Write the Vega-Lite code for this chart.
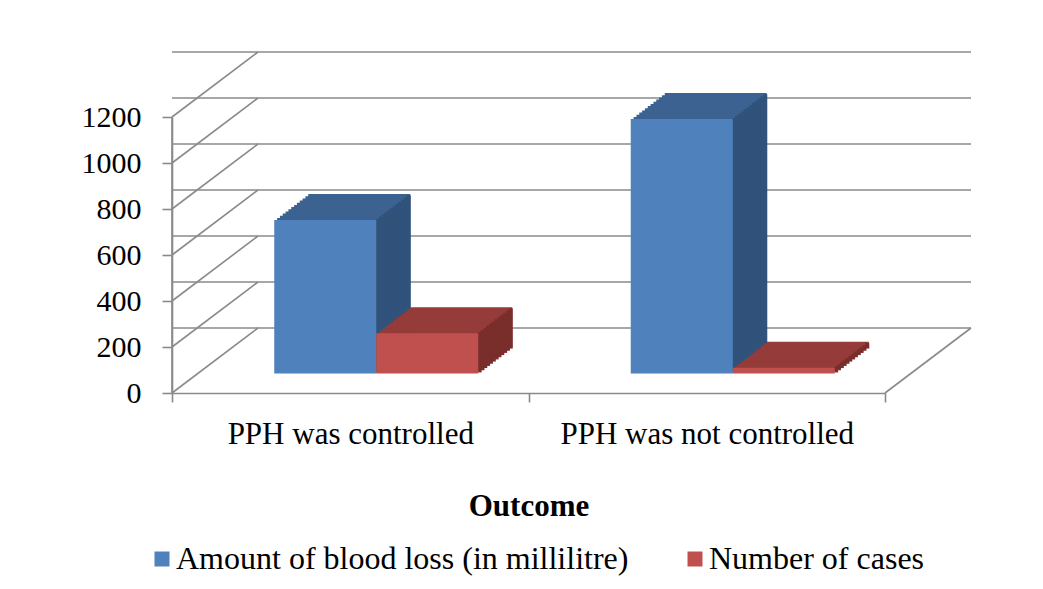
{
  "$schema": "https://vega.github.io/schema/vega-lite/v6.json",
  "width": 713,
  "height": 276,
  "autosize": {"type": "none"},
  "padding": {"left": 172, "top": 117, "right": 158, "bottom": 196},
  "background": "white",
  "config": {"view": {"stroke": null}, "font": "Liberation Serif"},
  "datasets": {
    "grid": [{"value": 0}, {"value": 200}, {"value": 400}, {"value": 600}, {"value": 800}, {"value": 1000}, {"value": 1200}],
    "bars": [
      {"outcome": "PPH was controlled", "series": "Amount of blood loss (in millilitre)", "value": 667},
      {"outcome": "PPH was controlled", "series": "Number of cases", "value": 175},
      {"outcome": "PPH was not controlled", "series": "Amount of blood loss (in millilitre)", "value": 1106},
      {"outcome": "PPH was not controlled", "series": "Number of cases", "value": 25}
    ]
  },
  "layer": [
    {
      "data": {"name": "grid"},
      "mark": {"type": "rule", "color": "#8a8a8a", "strokeWidth": 1.6, "xOffset": 86, "yOffset": -65},
      "encoding": {
        "y": {
          "field": "value", "type": "quantitative",
          "scale": {"domain": [0, 1200], "nice": false, "zero": true},
          "axis": {
            "title": null, "values": [0, 200, 400, 600, 800, 1000, 1200], "format": "d",
            "labelFont": "Liberation Serif", "labelFontSize": 30, "labelColor": "#000000", "labelPadding": 21, "labelFlush": false,
            "tickSize": 10, "tickColor": "#8a8a8a", "tickWidth": 1.6,
            "domain": true, "domainColor": "#8a8a8a", "domainWidth": 1.6, "grid": false
          }
        }
      }
    },
    {
      "data": {"name": "grid"},
      "mark": {"type": "rule", "color": "#8a8a8a", "strokeWidth": 1.6, "x2Offset": 86, "y2Offset": -65},
      "encoding": {
        "x": {
          "datum": "PPH was controlled", "type": "nominal", "bandPosition": 0,
          "scale": {"type": "band", "domain": ["PPH was controlled", "PPH was not controlled"], "paddingInner": 0, "paddingOuter": 0},
          "axis": {
            "title": "Outcome", "titleFont": "Liberation Serif", "titleFontSize": 31, "titleFontWeight": "bold", "titleColor": "#000000",
            "titleY": 98, "titleBaseline": "top",
            "labelFont": "Liberation Serif", "labelFontSize": 31, "labelColor": "#000000", "labelAngle": 0, "labelPadding": 17, "labelLimit": 0,
            "tickBand": "extent", "tickSize": 9, "tickColor": "#8a8a8a", "tickWidth": 1.6,
            "domainColor": "#8a8a8a", "domainWidth": 1.6, "grid": false
          }
        },
        "x2": {"datum": "PPH was controlled", "bandPosition": 0},
        "y": {
          "field": "value", "type": "quantitative",
          "axis": {
            "title": null, "values": [0, 200, 400, 600, 800, 1000, 1200], "format": "d",
            "labelFont": "Liberation Serif", "labelFontSize": 30, "labelColor": "#000000", "labelPadding": 21, "labelFlush": false,
            "tickSize": 10, "tickColor": "#8a8a8a", "tickWidth": 1.6,
            "domain": true, "domainColor": "#8a8a8a", "domainWidth": 1.6, "grid": false
          }
        },
        "y2": {"field": "value"}
      }
    },
    {
      "data": {"name": "grid"},
      "transform": [{"filter": "datum.value == 0"}],
      "mark": {"type": "rule", "color": "#8a8a8a", "strokeWidth": 1.6, "x2Offset": 86, "y2Offset": -65},
      "encoding": {
        "x": {
          "datum": "PPH was not controlled", "type": "nominal", "bandPosition": 1,
          "axis": {
            "title": "Outcome", "titleFont": "Liberation Serif", "titleFontSize": 31, "titleFontWeight": "bold", "titleColor": "#000000",
            "titleY": 98, "titleBaseline": "top",
            "labelFont": "Liberation Serif", "labelFontSize": 31, "labelColor": "#000000", "labelAngle": 0, "labelPadding": 17, "labelLimit": 0,
            "tickBand": "extent", "tickSize": 9, "tickColor": "#8a8a8a", "tickWidth": 1.6,
            "domainColor": "#8a8a8a", "domainWidth": 1.6, "grid": false
          }
        },
        "x2": {"datum": "PPH was not controlled", "bandPosition": 1},
        "y": {
          "field": "value", "type": "quantitative",
          "axis": {
            "title": null, "values": [0, 200, 400, 600, 800, 1000, 1200], "format": "d",
            "labelFont": "Liberation Serif", "labelFontSize": 30, "labelColor": "#000000", "labelPadding": 21, "labelFlush": false,
            "tickSize": 10, "tickColor": "#8a8a8a", "tickWidth": 1.6,
            "domain": true, "domainColor": "#8a8a8a", "domainWidth": 1.6, "grid": false
          }
        },
        "y2": {"field": "value"}
      }
    },
    {
      "data": {"name": "grid"},
      "transform": [{"filter": "datum.value == 0"}],
      "mark": {"type": "rule", "color": "#8a8a8a", "strokeWidth": 1.6},
      "encoding": {
        "x": {
          "datum": "PPH was controlled", "type": "nominal", "bandPosition": 0,
          "axis": {
            "title": "Outcome", "titleFont": "Liberation Serif", "titleFontSize": 31, "titleFontWeight": "bold", "titleColor": "#000000",
            "titleY": 98, "titleBaseline": "top",
            "labelFont": "Liberation Serif", "labelFontSize": 31, "labelColor": "#000000", "labelAngle": 0, "labelPadding": 17, "labelLimit": 0,
            "tickBand": "extent", "tickSize": 9, "tickColor": "#8a8a8a", "tickWidth": 1.6,
            "domainColor": "#8a8a8a", "domainWidth": 1.6, "grid": false
          }
        },
        "y": {
          "field": "value", "type": "quantitative",
          "axis": {
            "title": null, "values": [0, 200, 400, 600, 800, 1000, 1200], "format": "d",
            "labelFont": "Liberation Serif", "labelFontSize": 30, "labelColor": "#000000", "labelPadding": 21, "labelFlush": false,
            "tickSize": 10, "tickColor": "#8a8a8a", "tickWidth": 1.6,
            "domain": true, "domainColor": "#8a8a8a", "domainWidth": 1.6, "grid": false
          }
        },
        "y2": {"datum": 1200}
      }
    },
    {
      "data": {"name": "bars"},
      "encoding": {
        "x": {
          "field": "outcome", "type": "nominal",
          "axis": {
            "title": "Outcome", "titleFont": "Liberation Serif", "titleFontSize": 31, "titleFontWeight": "bold", "titleColor": "#000000",
            "titleY": 98, "titleBaseline": "top",
            "labelFont": "Liberation Serif", "labelFontSize": 31, "labelColor": "#000000", "labelAngle": 0, "labelPadding": 17, "labelLimit": 0,
            "tickBand": "extent", "tickSize": 9, "tickColor": "#8a8a8a", "tickWidth": 1.6,
            "domainColor": "#8a8a8a", "domainWidth": 1.6, "grid": false
          }
        },
        "y": {
          "field": "value", "type": "quantitative",
          "axis": {
            "title": null, "values": [0, 200, 400, 600, 800, 1000, 1200], "format": "d",
            "labelFont": "Liberation Serif", "labelFontSize": 30, "labelColor": "#000000", "labelPadding": 21, "labelFlush": false,
            "tickSize": 10, "tickColor": "#8a8a8a", "tickWidth": 1.6,
            "domain": true, "domainColor": "#8a8a8a", "domainWidth": 1.6, "grid": false
          }
        }
      },
      "layer": [
        {
          "transform": [{"filter": "datum.series == 'Amount of blood loss (in millilitre)'"}],
          "layer": [
            {"mark": {"type": "bar", "width": {"band": 0.2861}, "xOffset": -22.17, "yOffset": -21.67, "color": "#3c6291"}},
            {"mark": {"type": "bar", "width": {"band": 0.2861}, "xOffset": -19.33, "yOffset": -23.83, "color": "#3c6291"}},
            {"mark": {"type": "bar", "width": {"band": 0.2861}, "xOffset": -16.5, "yOffset": -26, "color": "#3c6291"}},
            {"mark": {"type": "bar", "width": {"band": 0.2861}, "xOffset": -13.67, "yOffset": -28.17, "color": "#3c6291"}},
            {"mark": {"type": "bar", "width": {"band": 0.2861}, "xOffset": -10.83, "yOffset": -30.33, "color": "#3c6291"}},
            {"mark": {"type": "bar", "width": {"band": 0.2861}, "xOffset": -8, "yOffset": -32.5, "color": "#3c6291"}},
            {"mark": {"type": "bar", "width": {"band": 0.2861}, "xOffset": -5.17, "yOffset": -34.67, "color": "#3c6291"}},
            {"mark": {"type": "bar", "width": {"band": 0.2861}, "xOffset": -2.33, "yOffset": -36.83, "color": "#3c6291"}},
            {"mark": {"type": "bar", "width": {"band": 0.2861}, "xOffset": 0.5, "yOffset": -39, "color": "#3c6291"}},
            {"mark": {"type": "bar", "width": {"band": 0.2861}, "xOffset": 3.33, "yOffset": -41.17, "color": "#3c6291"}},
            {"mark": {"type": "bar", "width": {"band": 0.2861}, "xOffset": 6.17, "yOffset": -43.33, "color": "#3c6291"}},
            {"mark": {"type": "bar", "width": {"band": 0.2861}, "xOffset": 9, "yOffset": -45.5, "color": "#3c6291"}},
            {"mark": {"type": "bar", "width": 3.9, "xOffset": 27.42, "yOffset": -20.58, "color": "#31527a"}},
            {"mark": {"type": "bar", "width": 3.9, "xOffset": 30.25, "yOffset": -22.75, "color": "#31527a"}},
            {"mark": {"type": "bar", "width": 3.9, "xOffset": 33.08, "yOffset": -24.92, "color": "#31527a"}},
            {"mark": {"type": "bar", "width": 3.9, "xOffset": 35.92, "yOffset": -27.08, "color": "#31527a"}},
            {"mark": {"type": "bar", "width": 3.9, "xOffset": 38.75, "yOffset": -29.25, "color": "#31527a"}},
            {"mark": {"type": "bar", "width": 3.9, "xOffset": 41.58, "yOffset": -31.42, "color": "#31527a"}},
            {"mark": {"type": "bar", "width": 3.9, "xOffset": 44.42, "yOffset": -33.58, "color": "#31527a"}},
            {"mark": {"type": "bar", "width": 3.9, "xOffset": 47.25, "yOffset": -35.75, "color": "#31527a"}},
            {"mark": {"type": "bar", "width": 3.9, "xOffset": 50.08, "yOffset": -37.92, "color": "#31527a"}},
            {"mark": {"type": "bar", "width": 3.9, "xOffset": 52.92, "yOffset": -40.08, "color": "#31527a"}},
            {"mark": {"type": "bar", "width": 3.9, "xOffset": 55.75, "yOffset": -42.25, "color": "#31527a"}},
            {"mark": {"type": "bar", "width": 3.9, "xOffset": 58.58, "yOffset": -44.42, "color": "#31527a"}},
            {
              "mark": {"type": "bar", "width": {"band": 0.2861}, "xOffset": -25, "yOffset": -19.5},
              "encoding": {
                "color": {
                  "field": "series", "type": "nominal",
                  "scale": {"domain": ["Amount of blood loss (in millilitre)", "Number of cases"], "range": ["#4f81bd", "#c0504d"]},
                  "legend": {
                    "orient": "none", "legendX": -26, "legendY": 426, "direction": "horizontal", "title": null,
                    "symbolType": "square", "symbolSize": 225, "symbolStrokeWidth": 0, "symbolOpacity": 1,
                    "labelFont": "Liberation Serif", "labelFontSize": 32, "labelColor": "#000000", "labelLimit": 0,
                    "labelOffset": -2, "columnPadding": 50, "padding": 0
                  }
                }
              }
            }
          ]
        },
        {
          "transform": [{"filter": "datum.series == 'Number of cases'"}],
          "layer": [
            {"mark": {"type": "bar", "width": {"band": 0.2861}, "xOffset": 79.83, "yOffset": -21.67, "color": "#953b39"}},
            {"mark": {"type": "bar", "width": {"band": 0.2861}, "xOffset": 82.67, "yOffset": -23.83, "color": "#953b39"}},
            {"mark": {"type": "bar", "width": {"band": 0.2861}, "xOffset": 85.5, "yOffset": -26, "color": "#953b39"}},
            {"mark": {"type": "bar", "width": {"band": 0.2861}, "xOffset": 88.33, "yOffset": -28.17, "color": "#953b39"}},
            {"mark": {"type": "bar", "width": {"band": 0.2861}, "xOffset": 91.17, "yOffset": -30.33, "color": "#953b39"}},
            {"mark": {"type": "bar", "width": {"band": 0.2861}, "xOffset": 94, "yOffset": -32.5, "color": "#953b39"}},
            {"mark": {"type": "bar", "width": {"band": 0.2861}, "xOffset": 96.83, "yOffset": -34.67, "color": "#953b39"}},
            {"mark": {"type": "bar", "width": {"band": 0.2861}, "xOffset": 99.67, "yOffset": -36.83, "color": "#953b39"}},
            {"mark": {"type": "bar", "width": {"band": 0.2861}, "xOffset": 102.5, "yOffset": -39, "color": "#953b39"}},
            {"mark": {"type": "bar", "width": {"band": 0.2861}, "xOffset": 105.33, "yOffset": -41.17, "color": "#953b39"}},
            {"mark": {"type": "bar", "width": {"band": 0.2861}, "xOffset": 108.17, "yOffset": -43.33, "color": "#953b39"}},
            {"mark": {"type": "bar", "width": {"band": 0.2861}, "xOffset": 111, "yOffset": -45.5, "color": "#953b39"}},
            {"mark": {"type": "bar", "width": 3.9, "xOffset": 129.42, "yOffset": -20.58, "color": "#7a2e2c"}},
            {"mark": {"type": "bar", "width": 3.9, "xOffset": 132.25, "yOffset": -22.75, "color": "#7a2e2c"}},
            {"mark": {"type": "bar", "width": 3.9, "xOffset": 135.08, "yOffset": -24.92, "color": "#7a2e2c"}},
            {"mark": {"type": "bar", "width": 3.9, "xOffset": 137.92, "yOffset": -27.08, "color": "#7a2e2c"}},
            {"mark": {"type": "bar", "width": 3.9, "xOffset": 140.75, "yOffset": -29.25, "color": "#7a2e2c"}},
            {"mark": {"type": "bar", "width": 3.9, "xOffset": 143.58, "yOffset": -31.42, "color": "#7a2e2c"}},
            {"mark": {"type": "bar", "width": 3.9, "xOffset": 146.42, "yOffset": -33.58, "color": "#7a2e2c"}},
            {"mark": {"type": "bar", "width": 3.9, "xOffset": 149.25, "yOffset": -35.75, "color": "#7a2e2c"}},
            {"mark": {"type": "bar", "width": 3.9, "xOffset": 152.08, "yOffset": -37.92, "color": "#7a2e2c"}},
            {"mark": {"type": "bar", "width": 3.9, "xOffset": 154.92, "yOffset": -40.08, "color": "#7a2e2c"}},
            {"mark": {"type": "bar", "width": 3.9, "xOffset": 157.75, "yOffset": -42.25, "color": "#7a2e2c"}},
            {"mark": {"type": "bar", "width": 3.9, "xOffset": 160.58, "yOffset": -44.42, "color": "#7a2e2c"}},
            {
              "mark": {"type": "bar", "width": {"band": 0.2861}, "xOffset": 77, "yOffset": -19.5},
              "encoding": {
                "color": {
                  "field": "series", "type": "nominal",
                  "scale": {"domain": ["Amount of blood loss (in millilitre)", "Number of cases"], "range": ["#4f81bd", "#c0504d"]}
                }
              }
            }
          ]
        }
      ]
    }
  ]
}
